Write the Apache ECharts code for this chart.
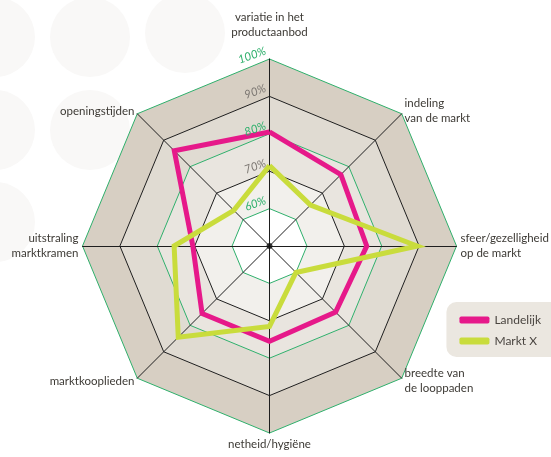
<!DOCTYPE html>
<html>
<head>
<meta charset="utf-8">
<script src="https://cdn.jsdelivr.net/npm/echarts@6/dist/echarts.min.js"></script>
<style>
  html, body { margin: 0; padding: 0; background: #ffffff; }
  #chart { width: 551px; height: 457px; }
</style>
</head>
<body>
<div id="chart"></div>
<script>
// indicators run counter-clockwise from the top, like ECharts draws them
var indicators = [
  "variatie in het\nproductaanbod",
  "openingstijden",
  "uitstraling\nmarktkramen",
  "marktkooplieden",
  "netheid/hygiëne",
  "breedte van\nde looppaden",
  "sfeer/gezelligheid\nop de markt",
  "indeling\nvan de markt"
];
var landelijk = [80.5, 86, 70.5, 75.5, 75.5, 75, 76, 77];
var marktX = [71.5, 63.5, 75.5, 84.5, 71.5, 60, 89.5, 65.5];
var seriesNames = ["Landelijk", "Markt X"];
var scaleMin = 50;
var scaleMax = 100;

var pink = "#e6198a";
var lime = "#c9dc3c";
var green = "#2fb06c";

var myChart = echarts.init(document.getElementById("chart"));

var cx = 269.5, cy = 246, R = 187;

// faint decorative dots in the top left corner
var dots = [[-5, 37], [90, 37], [185, 33], [-5, 130], [90, 130], [-5, 222]];

var option = {
  backgroundColor: "#ffffff",
  animation: false,
  textStyle: { fontFamily: "Lato" },
  graphic: dots.map(function (d) {
    return {
      type: "circle",
      z: -10,
      silent: true,
      shape: { cx: d[0], cy: d[1], r: 40 },
      style: { fill: "#f9f8f7" }
    };
  }),
  legend: {
    data: seriesNames,
    orient: "vertical",
    right: -14,
    top: 302,
    itemWidth: 30,
    itemHeight: 7,
    itemGap: 9,
    icon: "roundRect",
    padding: [12, 24, 10, 13],
    backgroundColor: "#ebe7e0",
    borderRadius: 10,
    textStyle: { color: "#4a4540", fontSize: 12, fontFamily: "Lato" }
  },
  radar: {
    center: [cx, cy],
    radius: R,
    startAngle: 90,
    splitNumber: 5,
    shape: "polygon",
    indicator: indicators.map(function (n) {
      return { name: n, min: scaleMin, max: scaleMax };
    }),
    axisName: {
      color: "#3d3a35",
      fontSize: 11.5,
      fontFamily: "Lato",
      lineHeight: 15,
      formatter: function (name) {
        // the top label sits a bit higher in the original
        return name === indicators[0] ? name + "\n\u00a0" : name;
      }
    },
    nameGap: 4,
    axisLine: { lineStyle: { color: "#1e1e1e", width: 1 } },
    splitLine: {
      lineStyle: { color: ["#1e1e1e", green], width: 1 }
    },
    splitArea: {
      areaStyle: {
        color: ["#ffffff", "#f2f0ec", "#e9e5df", "#e0dbd2", "#d7cfc3"]
      }
    }
  },
  // value axis along the top spoke, only for the percentage labels
  grid: { left: cx, top: cy - R, height: R, width: 1, z: 10 },
  xAxis: { type: "value", show: false },
  yAxis: {
    type: "value",
    z: 10,
    min: scaleMin,
    max: scaleMax,
    interval: 10,
    axisLine: { show: false },
    axisTick: { show: false },
    splitLine: { show: false },
    axisLabel: {
      rotate: 20,
      margin: 1,
      verticalAlign: "bottom",
      fontStyle: "italic",
      fontSize: 11.5,
      formatter: function (v) {
        if (v === scaleMin) return "";
        return (v % 20 === 0 ? "{g|" : "{k|") + v + "%}";
      },
      rich: {
        g: { color: green, fontStyle: "italic", fontSize: 11.5, padding: [0, 0, 3, 0] },
        k: { color: "#7d7873", fontStyle: "italic", fontSize: 11.5, padding: [0, 0, 3, 0] }
      }
    }
  },
  series: [
    {
      type: "radar",
      symbol: "none",
      z: 3,
      data: [
        {
          name: seriesNames[0],
          value: landelijk,
          itemStyle: { color: pink },
          lineStyle: { color: pink, width: 5, join: "miter" }
        },
        {
          name: seriesNames[1],
          value: marktX,
          itemStyle: { color: lime },
          lineStyle: { color: lime, width: 5, join: "miter" }
        }
      ]
    },
    {
      // centre dot
      type: "scatter",
      data: [[0, scaleMin]],
      symbolSize: 6,
      itemStyle: { color: "#111" },
      silent: true,
      z: 4
    }
  ]
};

myChart.setOption(option);
window.addEventListener("resize", function () {
  myChart.resize();
});
</script>
</body>
</html>
